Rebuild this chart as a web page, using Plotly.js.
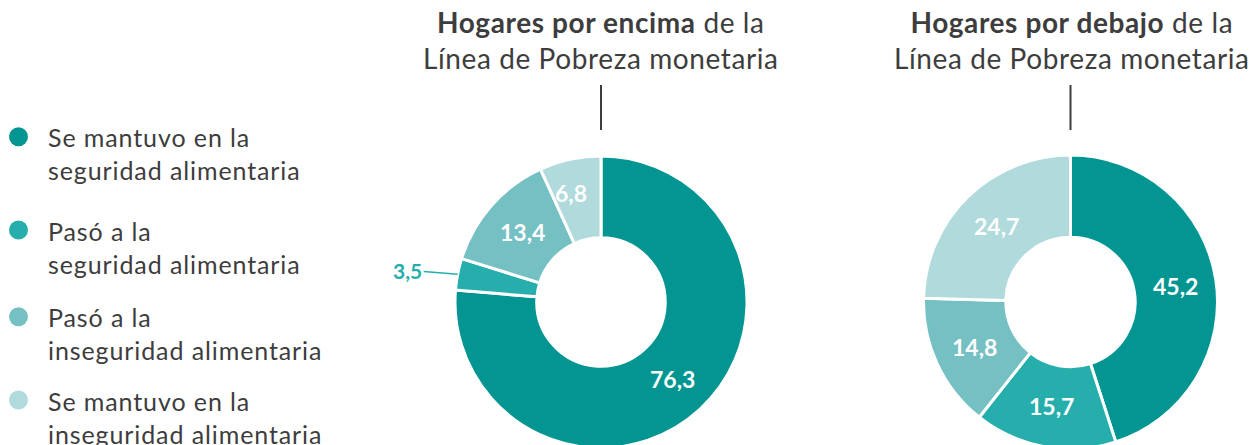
<!DOCTYPE html>
<html>
<head>
<meta charset="utf-8">
<script src="https://cdn.plot.ly/plotly-3.0.1.min.js"></script>
<style>
html,body{margin:0;padding:0;overflow:hidden;background:#fff;}
#chart{width:1253px;height:455px;}
</style>
</head>
<body>
<div id="chart"></div>
<script>
const categories = [
  "Se mantuvo en la<br>seguridad alimentaria",
  "Pasó a la<br>seguridad alimentaria",
  "Pasó a la<br>inseguridad alimentaria",
  "Se mantuvo en la<br>inseguridad alimentaria"
];
const encimaValues = [76.3, 3.5, 13.4, 6.8];
const debajoValues = [45.2, 15.7, 14.8, 24.7];
const colors = ["#029592", "#26AEAC", "#75C0C2", "#B0DADC"];
const titleEncima = "<b>Hogares por encima</b> de la<br>Línea de Pobreza monetaria";
const titleDebajo = "<b>Hogares por debajo</b> de la<br>Línea de Pobreza monetaria";

const W = 1253, H = 455;
const FONT = "Lato, 'Noto Sans', sans-serif";
const HOLE = 0.44;
const fmt = v => v.toFixed(1).replace('.', ',');

// pie geometry (pixels)
const pies = [
  {values: encimaValues, cx: 601, cy: 302, r: 146, title: titleEncima, tx: 601},
  {values: debajoValues, cx: 1070.5, cy: 302, r: 147, title: titleDebajo, tx: 1072}
];

const traces = [];
const annotations = [];
const shapes = [];

pies.forEach((p, i) => {
  const total = p.values.reduce((a, b) => a + b, 0);
  traces.push({
    type: "pie",
    values: p.values,
    labels: categories,
    sort: false,
    direction: "clockwise",
    rotation: 0,
    hole: HOLE,
    textinfo: "none",
    marker: {colors: colors, line: {color: "#ffffff", width: 3}},
    showlegend: false,
    hoverinfo: "label+value",
    domain: {
      x: [(p.cx - p.r) / W, (p.cx + p.r) / W],
      y: [(H - p.cy - p.r) / H, (H - p.cy + p.r) / H]
    }
  });
  // value labels placed in the ring, at each slice's mid angle
  let cum = 0;
  const rMid = p.r * (1 + HOLE) / 2;
  p.values.forEach((v, k) => {
    const mid = (cum + v / 2) / total * 2 * Math.PI;
    cum += v;
    if (v / total < 0.05) {
      const px = p.cx + p.r * Math.sin(mid);
      const py = p.cy - p.r * Math.cos(mid);
      annotations.push({
        x: px / W, y: 1 - py / H, xref: "paper", yref: "paper",
        text: "<b>" + fmt(v) + "</b>",
        showarrow: true, arrowhead: 0, arrowwidth: 1.5, arrowcolor: colors[k],
        ax: -50, ay: -4,
        font: {family: FONT, size: 21, color: colors[k]}
      });
    } else {
      // narrow slices: push the label a little further out
      const rr = v / total < 0.1 ? rMid * 1.06 : rMid;
      const px = p.cx + rr * Math.sin(mid) - (v / total < 0.1 ? 6 : 0);
      const py = p.cy - rr * Math.cos(mid);
      annotations.push({
        x: px / W, y: 1 - py / H, xref: "paper", yref: "paper",
        xanchor: "center", yanchor: "middle",
        text: "<b>" + fmt(v) + "</b>", showarrow: false,
        font: {family: FONT, size: 23, color: "#ffffff"}
      });
    }
  });
  annotations.push({
    x: p.tx / W, y: 1 - 3 / H, xref: "paper", yref: "paper",
    xanchor: "center", yanchor: "top", align: "center",
    text: "<span style='letter-spacing:0.6px'>" + p.title + "</span>", showarrow: false,
    font: {family: FONT, size: 28, color: "#3d3d3d"}
  });
  shapes.push({
    type: "line", xref: "paper", yref: "paper",
    x0: p.cx / W, x1: p.cx / W, y0: 1 - 85 / H, y1: 1 - 130 / H,
    line: {color: "#3d3d3d", width: 2}
  });
});

// legend drawn as circles + text
const legendY = [136.7, 230, 316.7, 400];
categories.forEach((c, k) => {
  const cy = legendY[k];
  shapes.push({
    type: "circle", xref: "paper", yref: "paper",
    x0: (18.5 - 9.5) / W, x1: (18.5 + 9.5) / W,
    y0: 1 - (cy + 9.5) / H, y1: 1 - (cy - 9.5) / H,
    fillcolor: colors[k], line: {width: 0}
  });
  annotations.push({
    x: 46 / W, y: 1 - (cy - 16.5) / H, xref: "paper", yref: "paper",
    xanchor: "left", yanchor: "top", align: "left",
    text: "<span style='letter-spacing:0.9px'>" + c + "</span>", showarrow: false,
    font: {family: FONT, size: 25, color: "#3d3d3d"}
  });
});

const layout = {
  width: W, height: H,
  margin: {l: 0, r: 0, t: 0, b: 0, autoexpand: false},
  paper_bgcolor: "#ffffff", plot_bgcolor: "#ffffff",
  showlegend: false,
  annotations: annotations,
  shapes: shapes
};

Plotly.newPlot("chart", traces, layout, {displayModeBar: false, staticPlot: true});
</script>
</body>
</html>
